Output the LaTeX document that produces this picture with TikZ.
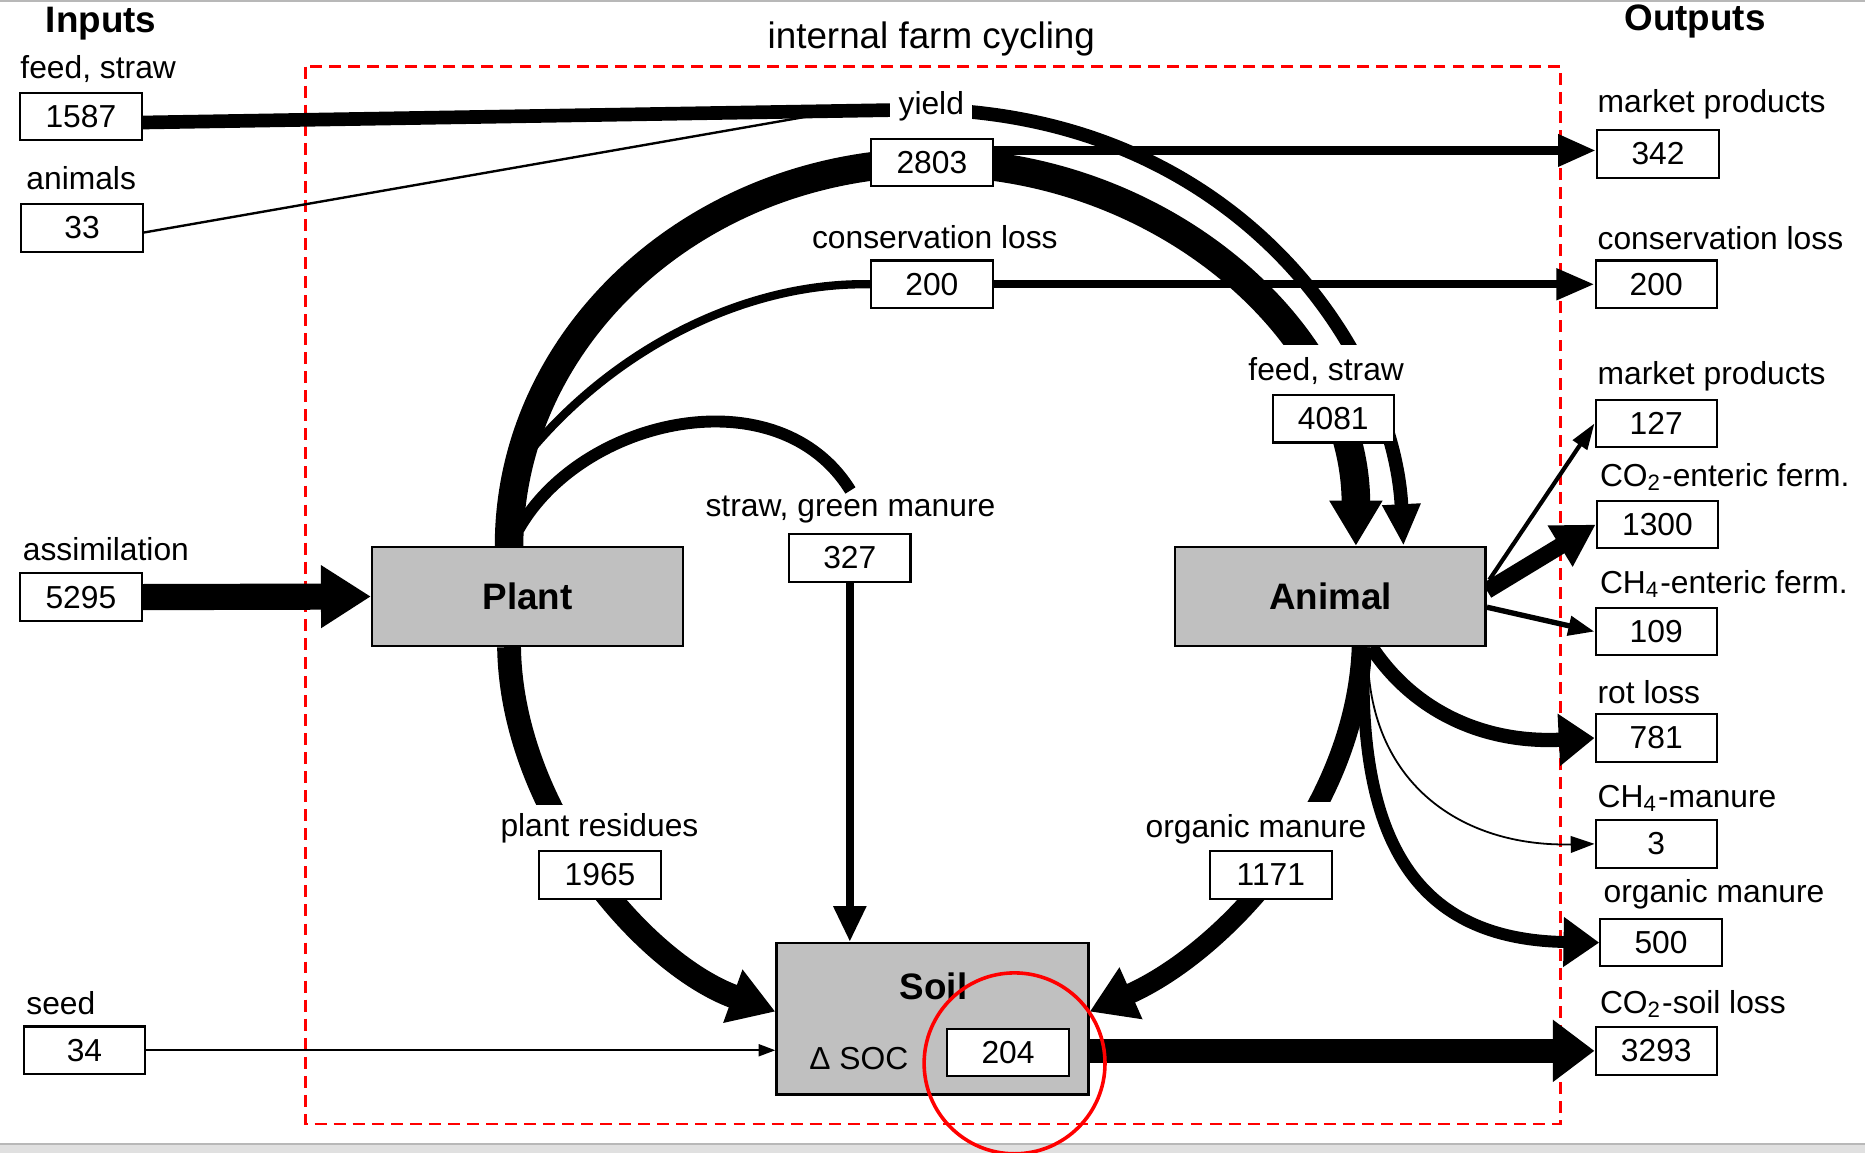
\documentclass[tikz,border=0pt]{standalone}
\usepackage{fontspec}
\setmainfont{Liberation Sans}
\usetikzlibrary{arrows.meta,calc}
\pgfdeclarelayer{back}
\pgfdeclarelayer{flows}
\pgfsetlayers{back,flows,main}
\definecolor{poolgray}{HTML}{C0C0C0}
\definecolor{framered}{HTML}{FF0000}
\begin{document}
\begin{tikzpicture}[x=0.01cm,y=-0.01cm,
  lab/.style={font=\fontsize{7.6}{9}\selectfont, inner sep=1pt},
  numbox/.style={draw, line width=0.5pt, fill=white, minimum width=1.02cm, minimum height=0.40cm, inner sep=0pt, font=\fontsize{7.6}{9}\selectfont},
  pool/.style={draw, line width=0.6pt, fill=poolgray, font=\fontsize{8.8}{10}\selectfont\bfseries},
  headtxt/.style={font=\fontsize{8.8}{10}\selectfont\bfseries, inner sep=1pt},
  titletxt/.style={font=\fontsize{8.8}{10}\selectfont, inner sep=1pt}
]
\path[use as bounding box] (0,0) rectangle (1568,969);
\clip (0,0) rectangle (1568,969);

% headings
\node[headtxt] (tin) at (85,20) {Inputs};
\node[headtxt] (tout) at (1425,18) {Outputs};
\node[titletxt] (tcyc) at (783,33) {internal farm cycling};

% pools
\node[pool, minimum width=2.61cm, minimum height=0.83cm] (plant) at (443.5,501.5) {Plant};
\node[pool, minimum width=2.61cm, minimum height=0.83cm] (animal) at (1118.5,501.5) {Animal};
\node[pool, minimum width=2.62cm, minimum height=1.27cm] (soil) at (784,856.5) {};
\node[headtxt] (soilt) at (785,829) {Soil};
\node[lab] (dsoc) at (722,890) {Δ SOC};
\node[numbox] (b204) at (847.5,885) {204};

% inputs
\node[lab, anchor=west] (lfeed) at (13,58) {feed, straw};
\node[numbox] (b1587) at (68,98) {1587};
\node[lab, anchor=west] (lanim) at (18,150) {animals};
\node[numbox] (b33) at (69,191.5) {33};
\node[lab, anchor=west] (lassim) at (15,462) {assimilation};
\node[numbox] (b5295) at (68,502) {5295};
\node[lab, anchor=west] (lseed) at (18,843) {seed};
\node[numbox] (b34) at (71,883) {34};

% outputs
\node[lab, anchor=west] (lmp1) at (1339,88) {market products};
\node[numbox] (b342) at (1394,129.5) {342};
\node[lab, anchor=west] (lcl) at (1339,200) {conservation loss};
\node[numbox] (b200o) at (1392.5,239) {200};
\node[lab, anchor=west] (lmp2) at (1339,316) {market products};
\node[numbox] (b127) at (1392.5,356) {127};
\node[lab, anchor=west] (lco2e) at (1341,401) {CO\textsubscript{2}-enteric ferm.};
\node[numbox] (b1300) at (1393.5,441) {1300};
\node[lab, anchor=west] (lch4e) at (1341,491) {CH\textsubscript{4}-enteric ferm.};
\node[numbox] (b109) at (1392.5,531) {109};
\node[lab, anchor=west] (lrot) at (1339,582) {rot loss};
\node[numbox] (b781) at (1392.5,620.5) {781};
\node[lab, anchor=west] (lch4m) at (1339,671) {CH\textsubscript{4}-manure};
\node[numbox] (b3) at (1392.5,709.5) {3};
\node[lab, anchor=west] (lorgo) at (1344,752) {organic manure};
\node[numbox] (b500) at (1396.5,792.5) {500};
\node[lab, anchor=west] (lco2s) at (1341,844) {CO\textsubscript{2}-soil loss};
\node[numbox] (b3293) at (1392.5,883.5) {3293};

% internal labels
\node[lab, fill=white, inner sep=2pt] (lyield) at (783,89) {yield};
\node[numbox] (b2803) at (783.5,136.5) {2803};
\node[lab] (lcons) at (786,199) {conservation loss};
\node[numbox] (b200i) at (783.5,239) {200};
\node[lab, fill=white, inner sep=3pt] (lfeedi) at (1115,312) {feed, straw};
\node[numbox] (b4081) at (1121,352) {4081};
\node[lab] (lstraw) at (715,428) {straw, green manure};
\node[numbox] (b327) at (714.5,469) {327};
\node[lab, fill=white, inner sep=2pt] (lres) at (504,696) {plant residues};
\node[numbox] (b1965) at (504.5,735.5) {1965};
\node[lab, fill=white, inner xsep=0.5pt, inner ysep=3pt] (lorg) at (1056,697) {organic manure};
\node[numbox] (b1171) at (1068.5,735.5) {1171};

% free ends
\coordinate (amerge) at (690,96);
\coordinate (yj) at (783,92);
\coordinate (cstart) at (445,380);
\coordinate (sstart) at (436,445);

\begin{pgfonlayer}{back}
\fill[black!12] (0,962) rectangle (1568,969);
\draw[black!28, line width=0.4pt] (0,962) -- (1568,962);
\draw[black!28, line width=0.6pt] (0,0.5) -- (1568,0.5);
\draw[framered, line width=0.02cm, dash pattern=on 0.1cm off 0.06cm] (257,56) rectangle (1312,945);
\end{pgfonlayer}

\begin{pgfonlayer}{flows}
% animals input
\draw[line width=0.02cm] ($(b33.east)+(0,4)$) -- (amerge);
% feed/straw input, through yield to animal
\draw[line width=0.115cm, -{Triangle[length=0.35cm,width=0.30cm]}]
  ($(b1587.east)+(0,5)$) -- (yj) .. controls (1045,100) and (1172,300) .. ($(animal.north)+(61.5,0)$);
% big yield arc plant -> animal
\draw[line width=0.24cm, -{Triangle[length=0.38cm,width=0.42cm]}]
  ($(plant.north)+(-15.5,0)$) .. controls (428,282) and (587,137) .. (b2803.center)
  .. controls (980,137) and (1140,282) .. ($(animal.north)+(21.5,0)$);
% market products 342
\draw[line width=0.08cm, -{Triangle[length=0.32cm,width=0.25cm]}]
  ($(b2803.east |- b342.west)+(0,-3)$) -- ($(b342.west)+(0,-3)$);
% conservation loss
\draw[line width=0.07cm] (cstart) .. controls (520,290) and (630,237) .. (b200i.west);
\draw[line width=0.07cm, -{Triangle[length=0.32cm,width=0.25cm]}] (b200i.east) -- (b200o.west);
% straw, green manure
\draw[line width=0.10cm] (sstart) .. controls (490,350) and (655,315) .. (lstraw.north);
\draw[line width=0.07cm, -{Triangle[length=0.30cm,width=0.26cm]}] (b327.south) -- (b327.south |- soil.north);
% plant residues
\draw[line width=0.20cm, -{Triangle[length=0.38cm,width=0.45cm]}]
  ($(plant.south)+(-15.5,0)$) .. controls (430,680) and (540,810) .. ($(soil.west)+(0,-6)$);
% organic manure to soil
\draw[line width=0.17cm, -{Triangle[length=0.38cm,width=0.45cm]}]
  ($(animal.south)+(26.5,0)$) .. controls (1140,680) and (1030,800) .. ($(soil.east)+(0,-6)$);
% seed
\draw[line width=0.018cm, -{Triangle[length=0.14cm,width=0.10cm]}] (b34.east) -- (b34.east -| soil.west);
% assimilation
\draw[line width=0.22cm, -{Triangle[length=0.42cm,width=0.50cm]}] (b5295.east) -- (plant.west);
% soil loss
\draw[line width=0.20cm, -{Triangle[length=0.35cm,width=0.50cm]}] (soil.east |- b3293.west) -- (b3293.west);
% animal outputs
\draw[line width=0.035cm, -{Triangle[length=0.22cm,width=0.14cm]}] ($(animal.east)+(2,-14)$) -- (b127.west);
\draw[line width=0.14cm, -{Triangle[length=0.35cm,width=0.38cm]}] ($(animal.east)+(0,-5)$) -- (b1300.west);
\draw[line width=0.045cm, -{Triangle[length=0.22cm,width=0.16cm]}] ($(animal.east)+(0,9)$) -- (b109.west);
\draw[line width=0.12cm, -{Triangle[length=0.30cm,width=0.42cm]}]
  ($(animal.south)+(34.5,0)$) .. controls (1190,600) and (1250,625) .. (b781.west);
\draw[line width=0.015cm, -{Triangle[length=0.20cm,width=0.14cm]}]
  ($(animal.south)+(31.5,8)$) .. controls (1152,660) and (1230,712) .. (b3.west);
\draw[line width=0.10cm, -{Triangle[length=0.30cm,width=0.40cm]}]
  ($(animal.south)+(28.5,0)$) .. controls (1140,720) and (1200,790) .. (b500.west);
\end{pgfonlayer}

% highlight circle
\draw[framered, line width=0.03cm] (853,894) circle[radius=0.76cm];
\end{tikzpicture}
\end{document}
